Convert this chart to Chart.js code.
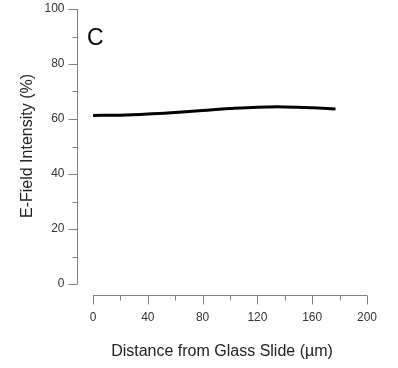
<!DOCTYPE html>
<html>
<head>
<meta charset="utf-8">
<script src="https://cdn.jsdelivr.net/npm/chart.js@4/dist/chart.umd.min.js"></script>
<style>
  body { margin: 0; background: #fff; }
  canvas { display: block; }
</style>
</head>
<body>
<canvas id="myChart" width="398" height="368"></canvas>
<script>
// distance from glass slide (um) and E-field intensity (%)
const distance = [0, 20, 40, 60, 80, 100, 120, 140, 160, 177];
const intensity = [61.3, 61.4, 61.8, 62.4, 63.1, 63.8, 64.3, 64.4, 64.1, 63.6];

const xTicks = [0, 40, 80, 120, 160, 200];
const xMinorTicks = [20, 60, 100, 140, 180];
const yTicks = [0, 20, 40, 60, 80, 100];
const yMinorTicks = [10, 30, 50, 70, 90];

const panelLabel = 'C';
const xTitle = 'Distance from Glass Slide (\u00b5m)';
const yTitle = 'E-Field Intensity (%)';

const FONT = '"Liberation Sans", Arial, sans-serif';

//draws the detached axes like in the original plot
const axesPlugin = {
  id: 'axes',
  afterDraw(chart) {
    const ctx = chart.ctx;
    const x = chart.scales.x;
    const y = chart.scales.y;
    const area = chart.chartArea;
    ctx.save();
    ctx.strokeStyle = '#808080';
    ctx.lineWidth = 1;

    // y axis
    const ax = Math.round(area.left) + 0.5;
    ctx.beginPath();
    ctx.moveTo(ax, y.getPixelForValue(0));
    ctx.lineTo(ax, y.getPixelForValue(100));
    yTicks.forEach(v => {
      const py = Math.round(y.getPixelForValue(v)) + 0.5;
      ctx.moveTo(ax, py);
      ctx.lineTo(ax - 9, py);
    });
    yMinorTicks.forEach(v => {
      const py = Math.round(y.getPixelForValue(v)) + 0.5;
      ctx.moveTo(ax, py);
      ctx.lineTo(ax - 5, py);
    });
    ctx.stroke();

    // x axis
    const ay = Math.round(area.bottom) + 0.5;
    ctx.beginPath();
    ctx.moveTo(x.getPixelForValue(0), ay);
    ctx.lineTo(x.getPixelForValue(200), ay);
    xTicks.forEach(v => {
      const px = Math.round(x.getPixelForValue(v)) + 0.5;
      ctx.moveTo(px, ay);
      ctx.lineTo(px, ay + 9);
    });
    xMinorTicks.forEach(v => {
      const px = Math.round(x.getPixelForValue(v)) + 0.5;
      ctx.moveTo(px, ay);
      ctx.lineTo(px, ay + 5);
    });
    ctx.stroke();

    // tick labels
    ctx.fillStyle = '#333';
    ctx.font = '12px ' + FONT;
    ctx.textAlign = 'right';
    ctx.textBaseline = 'middle';
    yTicks.forEach(v => {
      ctx.fillText(String(v), ax - 13, y.getPixelForValue(v));
    });
    ctx.textAlign = 'center';
    ctx.textBaseline = 'top';
    xTicks.forEach(v => {
      ctx.fillText(String(v), x.getPixelForValue(v), ay + 16);
    });

    // titles
    ctx.fillStyle = '#222';
    ctx.font = '16px ' + FONT;
    ctx.textBaseline = 'alphabetic';
    ctx.fillText(xTitle, 222, 356);
    ctx.save();
    ctx.translate(32, 146);
    ctx.rotate(-Math.PI / 2);
    ctx.fillText(yTitle, 0, 0);
    ctx.restore();

    // panel label
    ctx.fillStyle = '#000';
    ctx.font = '23px ' + FONT;
    ctx.textAlign = 'left';
    ctx.fillText(panelLabel, 87, 45);
    ctx.restore();
  }
};

const data = {
  datasets: [{
    label: yTitle,
    data: distance.map((d, i) => ({ x: d, y: intensity[i] })),
    borderColor: '#000',
    borderWidth: 3,
    pointRadius: 0,
    tension: 0.4,
    fill: false
  }]
};

const config = {
  type: 'line',
  data: data,
  options: {
    responsive: false,
    animation: false,
    layout: {
      padding: { left: 77, right: 31, top: 9, bottom: 73 }
    },
    plugins: {
      legend: { display: false },
      tooltip: { enabled: false }
    },
    scales: {
      x: { type: 'linear', min: -11.7, max: 200, display: false },
      y: { type: 'linear', min: -4, max: 100, display: false }
    }
  },
  plugins: [axesPlugin]
};

const myChart = new Chart(document.getElementById('myChart'), config);
</script>
</body>
</html>
